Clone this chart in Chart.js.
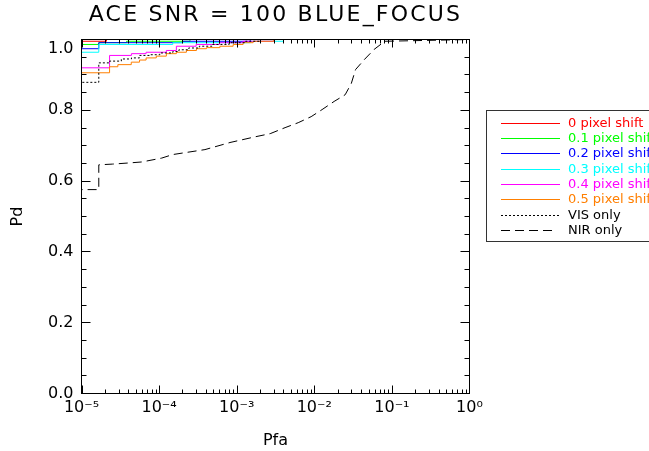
<!DOCTYPE html>
<html><head><meta charset="utf-8">
<script src="https://cdn.jsdelivr.net/npm/chart.js@4"></script>
<style>html,body{margin:0;padding:0;background:#fff;overflow:hidden;}</style>
</head><body>
<canvas id="c" width="649" height="451" style="display:block;width:649px;height:451px"></canvas>
<script>
// ---- data ----
const chartTitle = 'ACE SNR = 100 BLUE_FOCUS';
const seriesNames = ['0 pixel shift', '0.1 pixel shift', '0.2 pixel shift', '0.3 pixel shift', '0.4 pixel shift', '0.5 pixel shift', 'VIS only', 'NIR only'];
const seriesColors = ['#ff0000', '#00ff00', '#0000ff', '#00ffff', '#ff00ff', '#ff7f00', '#000000', '#000000'];

const pfaShift0 = [1e-5, 1e-5, 2.1e-5, 1];
const pdShift0  = [0, 0.995, 1.0, 1.0];

const pfaShift1 = [1e-5, 1e-5, 1.67e-5, 3.8e-5, 2.5e-4, 1];
const pdShift1  = [0, 0.986, 0.991, 0.995, 1.0, 1.0];

const pfaShift2 = [1e-5, 1e-5, 1.67e-5, 2.0e-4, 1.5e-3, 1];
const pdShift2  = [0, 0.974, 0.991, 0.995, 1.0, 1.0];

const pfaShift3 = [1e-5, 1e-5, 1.67e-5, 1.5e-4, 1.5e-3, 4e-3, 1];
const pdShift3  = [0, 0.964, 0.986, 0.991, 0.995, 1.0, 1.0];

const pfaShift4 = [1e-5, 1e-5, 2.3e-5, 4.4e-5, 6.8e-5, 1.24e-4, 1.67e-4, 3e-4, 6e-4, 1.2e-3, 3e-3, 1];
const pdShift4  = [0, 0.92, 0.955, 0.96, 0.964, 0.969, 0.981, 0.986, 0.991, 0.995, 1.0, 1.0];

const pfaShift5 = [1e-5, 1e-5, 2.3e-5, 2.94e-5, 4.38e-5, 5.6e-5, 6.8e-5, 9.2e-5, 1.24e-4, 1.67e-4, 2.25e-4, 3.03e-4, 4.08e-4, 6.07e-4, 9e-4, 1.21e-3, 1.63e-3, 3e-3, 1];
const pdShift5  = [0, 0.906, 0.923, 0.929, 0.936, 0.942, 0.948, 0.953, 0.96, 0.964, 0.969, 0.974, 0.977, 0.981, 0.986, 0.991, 0.995, 1.0, 1.0];

const pfaVis = [1e-5, 1e-5, 1.67e-5, 2.3e-5, 3.26e-5, 4.4e-5, 5.6e-5, 7.6e-5, 1.02e-4, 1.5e-4, 1.8e-4, 2.4e-4, 3.3e-4, 4.8e-4, 8e-4, 1.3e-3, 2e-3, 1];
const pdVis  = [0, 0.879, 0.934, 0.939, 0.945, 0.948, 0.955, 0.957, 0.962, 0.966, 0.971, 0.976, 0.981, 0.986, 0.991, 0.995, 1.0, 1.0];

const pfaNir = [1e-5, 1e-5, 1.67e-5, 1.67e-5, 2.5e-5, 3.93e-5, 5.96e-5, 1.08e-4, 1.5e-4, 3.9e-4, 8.2e-4, 1.72e-3, 2.7e-3, 4.2e-3, 6.2e-3, 9.1e-3, 1.26e-2, 1.8e-2, 2.5e-2, 3.0e-2, 3.4e-2, 4.4e-2, 5.9e-2, 8.1e-2, 1];
const pdNir  = [0, 0.576, 0.576, 0.646, 0.648, 0.651, 0.654, 0.665, 0.675, 0.689, 0.709, 0.725, 0.734, 0.751, 0.765, 0.782, 0.802, 0.825, 0.844, 0.876, 0.915, 0.943, 0.972, 0.995, 1.0];

const xTickValues = [1e-5, 1e-4, 1e-3, 1e-2, 1e-1, 1];
const xTickLabels = ['10\u207B\u2075', '10\u207B\u2074', '10\u207B\u00B3', '10\u207B\u00B2', '10\u207B\u00B9', '10\u2070'];
const yTickValues = [0, 0.2, 0.4, 0.6, 0.8, 1.0];
const yTickLabels = ['0.0', '0.2', '0.4', '0.6', '0.8', '1.0'];

// ---- build ----
const FONT = "'DejaVu Sans', sans-serif";
function pts(xs, ys) { return xs.map((x, i) => ({x: x, y: ys[i]})); }
const seriesX = [pfaShift0, pfaShift1, pfaShift2, pfaShift3, pfaShift4, pfaShift5, pfaVis, pfaNir];
const seriesY = [pdShift0, pdShift1, pdShift2, pdShift3, pdShift4, pdShift5, pdVis, pdNir];
const dashes = [[], [], [], [], [], [], [2, 2], [9, 5]];

const datasets = seriesNames.map((name, i) => ({
  label: name,
  data: pts(seriesX[i], seriesY[i]),
  borderColor: seriesColors[i],
  backgroundColor: seriesColors[i],
  borderWidth: 1,
  borderDash: dashes[i],
  showLine: true,
  stepped: i < 7 ? 'before' : false,
  pointRadius: 0,
  fill: false,
  order: seriesNames.length - i
}));

// wider (spaced) title lettering, like the original plotting font
const titleSpacingPlugin = {
  id: 'titleSpacing',
  afterInit(chart) {
    const tb = chart.titleBlock;
    if (!tb || tb._spaced) return;
    const orig = tb.draw;
    tb.draw = function (area) {
      const c = this.ctx;
      c.save();
      c.letterSpacing = '2.2px';
      orig.call(this, area);
      c.restore();
    };
    tb._spaced = true;
  }
};

const framePlugin = {
  id: 'frame',
  afterDatasetsDraw(chart) {
    const ctx = chart.ctx, a = chart.chartArea;
    const xs = chart.scales.x, ys = chart.scales.y;
    ctx.save();
    ctx.strokeStyle = '#000';
    ctx.lineWidth = 1;
    ctx.setLineDash([]);
    ctx.strokeRect(a.left, a.top, a.right - a.left, a.bottom - a.top);
    ctx.beginPath();
    for (let d = -5; d < 0; d++) {
      for (let m = 1; m <= 9; m++) {
        const v = m * Math.pow(10, d);
        const px = Math.round(xs.getPixelForValue(v)) + 0.5;
        const len = m === 1 ? 8 : 4;
        ctx.moveTo(px, a.bottom); ctx.lineTo(px, a.bottom - len);
        ctx.moveTo(px, a.top); ctx.lineTo(px, a.top + len);
      }
    }
    for (let k = 0; k <= 20; k++) {
      const v = k * 0.05;
      const py = Math.round(ys.getPixelForValue(v) - 0.5) + 0.5;
      const len = k % 4 === 0 ? 9 : 5;
      ctx.moveTo(a.left, py); ctx.lineTo(a.left + len, py);
      ctx.moveTo(a.right, py); ctx.lineTo(a.right - len, py);
    }
    ctx.stroke();
    ctx.restore();
  }
};

const legendPlugin = {
  id: 'boxLegend',
  afterDraw(chart) {
    const ctx = chart.ctx;
    ctx.save();
    ctx.strokeStyle = '#333';
    ctx.lineWidth = 1;
    ctx.setLineDash([]);
    ctx.strokeRect(486.5, 110.5, 300, 131);
    ctx.font = '13px ' + FONT;
    ctx.textBaseline = 'middle';
    ctx.textAlign = 'left';
    chart.data.datasets.forEach((ds, i) => {
      const y = Math.round(122.7 + i * 15.33) + 0.5;
      ctx.strokeStyle = ds.borderColor;
      ctx.setLineDash(ds.borderDash || []);
      ctx.beginPath();
      ctx.moveTo(501, y);
      ctx.lineTo(i === 7 ? 553 : 560, y);
      ctx.stroke();
      ctx.setLineDash([]);
      ctx.fillStyle = ds.borderColor;
      ctx.fillText(ds.label, 568, y);
    });
    ctx.restore();
  }
};

new Chart(document.getElementById('c'), {
  type: 'scatter',
  data: { datasets: datasets },
  options: {
    responsive: false,
    animation: false,
    devicePixelRatio: 1,
    layout: { padding: { left: 0, right: 179.5, top: 0, bottom: 0 } },
    plugins: {
      legend: { display: false },
      tooltip: { enabled: false },
      title: {
        display: true,
        text: chartTitle,
        fullSize: false,
        color: '#000',
        font: { family: FONT, size: 22, weight: 'normal' },
        padding: { top: 2, bottom: 11.1 }
      }
    },
    scales: {
      x: {
        type: 'logarithmic',
        position: 'bottom',
        min: 1e-5,
        max: 1,
        grid: { display: false, drawTicks: false },
        border: { display: false },
        afterBuildTicks: (s) => { s.ticks = xTickValues.map(v => ({ value: v })); },
        afterFit: (s) => { s.height = 57.5; },
        ticks: {
          color: '#000',
          autoSkip: false,
          maxRotation: 0,
          padding: 5,
          font: { family: FONT, size: 16 },
          callback: (v) => {
            const i = xTickValues.findIndex(t => Math.abs(Math.log10(t) - Math.log10(v)) < 1e-6);
            return i >= 0 ? xTickLabels[i] : '';
          }
        },
        title: { display: true, text: 'Pfa', color: '#000', font: { family: FONT, size: 16 }, padding: { top: 0, bottom: 1 } }
      },
      y: {
        type: 'linear',
        min: 0,
        max: 1,
        grid: { display: false, drawTicks: false },
        border: { display: false },
        afterBuildTicks: (s) => { s.ticks = yTickValues.map(v => ({ value: v })); },
        afterFit: (s) => { s.width = 81.5; },
        ticks: {
          color: '#000',
          padding: 8,
          font: { family: FONT, size: 16 },
          callback: (v) => {
            const i = yTickValues.findIndex(t => Math.abs(t - v) < 1e-9);
            if (i < 0) return '';
            // top label sits just below the top edge, as in the original
            return i === yTickValues.length - 1 ? ['', yTickLabels[i]] : yTickLabels[i];
          }
        },
        title: { display: true, text: 'Pd', color: '#000', font: { family: FONT, size: 16 }, padding: { top: 8, bottom: 0 } }
      }
    }
  },
  plugins: [titleSpacingPlugin, framePlugin, legendPlugin]
});
</script>
</body></html>
